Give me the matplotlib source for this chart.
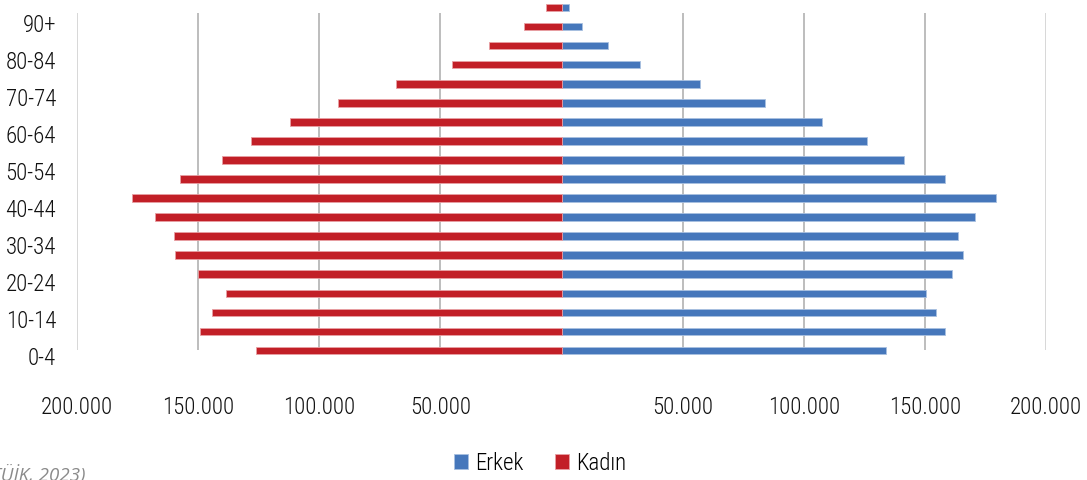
#Population pyramid by age group (Erkek / Kadın)
import numpy as np
import matplotlib.pyplot as plt

plt.rcParams['font.family'] = ['Roboto Condensed', 'Roboto', 'DejaVu Sans']

age_groups = ['0-4', '5-9', '10-14', '15-19', '20-24', '25-29', '30-34', '35-39',
              '40-44', '45-49', '50-54', '55-59', '60-64', '65-69', '70-74',
              '75-79', '80-84', '85-89', '90+']
erkek = [134000, 158400, 154400, 150300, 161400, 165600, 163600, 170700,
         179300, 158400, 141500, 126200, 107700, 84200, 57000,
         32600, 19200, 8500, 3000]
kadin = [126200, 149300, 144200, 138600, 150200, 159400, 160000, 167600,
         177200, 157300, 140000, 128300, 112000, 92200, 68300,
         45300, 29900, 15300, 6600]
x_ticks = [-200000, -150000, -100000, -50000, 0, 50000, 100000, 150000, 200000]
x_labels = ['200.000', '150.000', '100.000', '50.000', '', '50.000', '100.000', '150.000', '200.000']

blue = '#4677bb'
red = '#c21f27'
fs = 16.5

fig = plt.figure(figsize=(10.87, 4.81), dpi=100)
# axes placed to match the reference pixel layout
ax = fig.add_axes([77 / 1087, 120 / 481, 969 / 1087, 362 / 481])

y = np.arange(len(age_groups))
ax.barh(y, erkek, height=0.4, color=blue, edgecolor='#a9c0e0', linewidth=0.6,
        label='Erkek', zorder=3)
ax.barh(y, [-v for v in kadin], height=0.4, color=red, edgecolor='#e8a0a4',
        linewidth=0.6, label='Kadın', zorder=3)

ax.set_xlim(-200000, 200000)
ax.set_ylim(-0.5, 18.5)

# vertical gridlines (not drawn at zero)
for t in x_ticks:
    if t == 0:
        continue
    c = '#d4d4d4' if abs(t) == 200000 else '#b8b8b8'
    ax.vlines(t, 0.0, 17.7, color=c, lw=1.3, zorder=1)

ax.set_xticks(x_ticks)
ax.set_xticklabels(x_labels, fontsize=fs, color='#111111', fontweight='light')
ax.tick_params(axis='x', length=0, pad=25)

# category labels, every second group
ticks = [i * 0.97 - 0.24 for i in range(0, len(age_groups), 2)]
ax.set_yticks(ticks)
ax.set_yticklabels(age_groups[::2], fontsize=fs, color='#111111', fontweight='light')
ax.tick_params(axis='y', length=0, pad=15)

for s in ax.spines.values():
    s.set_visible(False)

fig.legend(loc='center', bbox_to_anchor=(540 / 1087, 1 - 464 / 481), ncol=2,
           frameon=False, handlelength=0.6, handleheight=0.6,
           handletextpad=0.3, columnspacing=1.4, borderpad=0,
           prop={'size': fs, 'weight': 'light'})

fig.text(86 / 1087, 1 - 465 / 481, '(TÜİK, 2023)', ha='right', va='top',
         fontsize=13.5, style='italic', color='#8a8a8a', family=['Open Sans', 'DejaVu Sans'])

fig.savefig('out.png', dpi=100)
